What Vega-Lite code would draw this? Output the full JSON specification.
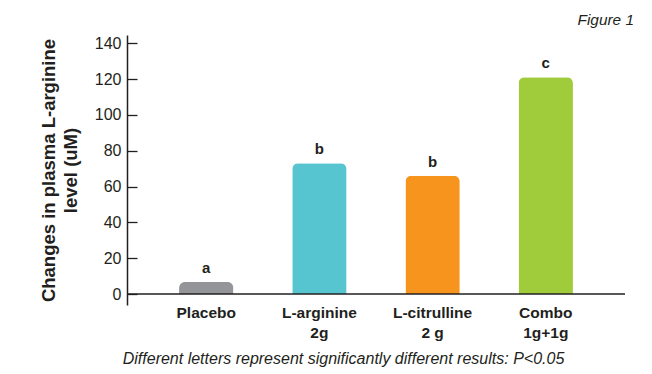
{
  "$schema": "https://vega.github.io/schema/vega-lite/v6.json",
  "width": 498,
  "height": 270,
  "autosize": {"type": "none"},
  "padding": {"left": 127, "top": 35, "right": 27, "bottom": 69},
  "background": "white",
  "title": {
    "text": "Figure 1",
    "anchor": "end",
    "orient": "top",
    "frame": "group",
    "font": "Liberation Sans",
    "fontSize": 15.4,
    "fontStyle": "italic",
    "fontWeight": "normal",
    "color": "#231f20",
    "baseline": "middle",
    "offset": 0,
    "dx": 9
  },
  "data": {
    "values": [
      {"group": "Placebo", "value": 6.7, "letter": "a"},
      {"group": "L-arginine|2g", "value": 73, "letter": "b"},
      {"group": "L-citrulline|2 g", "value": 66, "letter": "b"},
      {"group": "Combo|1g+1g", "value": 121, "letter": "c"}
    ]
  },
  "resolve": {"axis": {"y": "independent"}},
  "layer": [
    {
      "mark": {"type": "bar", "cornerRadiusTopLeft": 6, "cornerRadiusTopRight": 6},
      "encoding": {
        "x": {
          "field": "group",
          "type": "nominal",
          "sort": null,
          "scale": {"paddingInner": 0.52, "paddingOuter": 0.46},
          "axis": {
            "title": "Different letters represent significantly different results: P<0.05",
            "titleFont": "Liberation Sans",
            "titleFontSize": 16,
            "titleFontStyle": "italic",
            "titleFontWeight": "normal",
            "titleColor": "#231f20",
            "titleX": 216,
            "titlePadding": 10,
            "labelAngle": 0,
            "labelExpr": "split(datum.label, '|')",
            "labelFont": "Liberation Sans",
            "labelFontSize": 15.5,
            "labelFontWeight": "bold",
            "labelColor": "#231f20",
            "labelLineHeight": 20,
            "labelPadding": 0,
            "domain": false,
            "ticks": false
          }
        },
        "y": {
          "field": "value",
          "type": "quantitative",
          "scale": {"domain": [-6.1, 144.6], "nice": false, "zero": false},
          "axis": {
            "orient": "left",
            "values": [0, 20, 40, 60, 80, 100, 120, 140],
            "labelOverlap": false,
            "title": ["Changes in plasma L-arginine", "level (uM)"],
            "titleFont": "Liberation Sans",
            "titleFontSize": 18.5,
            "titleFontWeight": "bold",
            "titleColor": "#231f20",
            "titleLineHeight": 22,
            "titlePadding": 14,
            "labelFont": "Liberation Sans",
            "labelFontSize": 16,
            "labelColor": "#231f20",
            "ticks": false,
            "labelPadding": 6,
            "domainColor": "#231f20",
            "domainWidth": 1.5,
            "grid": false
          }
        },
        "color": {
          "field": "group",
          "type": "nominal",
          "sort": null,
          "scale": {"range": ["#939598", "#56c5d0", "#f7941d", "#a0cb3b"]},
          "legend": null
        }
      }
    },
    {
      "mark": {"type": "text", "font": "Liberation Sans", "fontSize": 15, "fontWeight": "bold", "color": "#231f20", "baseline": "alphabetic", "dy": -9},
      "encoding": {
        "x": {"field": "group", "type": "nominal", "sort": null},
        "y": {
          "field": "value",
          "type": "quantitative",
          "axis": {
            "orient": "right",
            "offset": -498,
            "values": [0, 20, 40, 60, 80, 100, 120, 140],
            "title": null,
            "labels": false,
            "domain": false,
            "ticks": true,
            "tickSize": 10,
            "tickColor": "#231f20",
            "tickWidth": 1.3,
            "grid": false
          }
        },
        "text": {"field": "letter"}
      }
    },
    {
      "mark": {"type": "rule", "color": "#231f20", "strokeWidth": 1.5},
      "data": {"values": [{"value": 0}]},
      "encoding": {
        "y": {"field": "value", "type": "quantitative", "axis": null}
      }
    }
  ],
  "config": {"view": {"stroke": null}}
}
